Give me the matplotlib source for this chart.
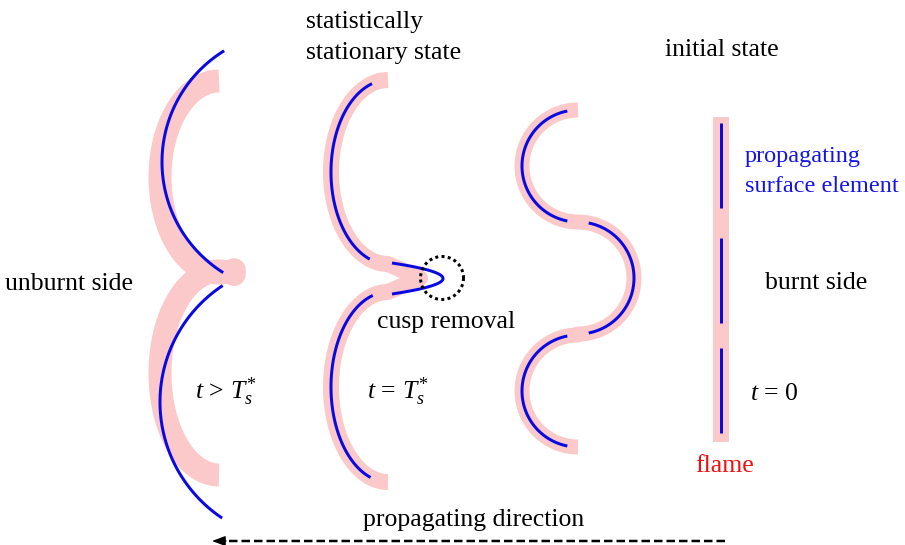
import matplotlib
matplotlib.use('Agg')
import matplotlib.pyplot as plt
import numpy as np

plt.rcParams['font.family'] = ['Liberation Serif', 'DejaVu Serif']
plt.rcParams['mathtext.fontset'] = 'custom'
plt.rcParams['mathtext.rm'] = 'Liberation Serif'
plt.rcParams['mathtext.it'] = 'Liberation Serif:italic'

PINK = '#fbc9c9'
BLUE = '#0a0ae0'
PX = 0.72  # points per pixel at dpi 100

# --- geometry (pixel units, y downwards) ---
# t > Ts*: pink ellipse arcs (cx, cy, a, b, t_start, t_end)
late_pink = [(219, 177, 59, 96, 270, 75), (219, 373, 59, 102, 285, 90)]
# blue circle arcs (cx, cy, r, t_start, t_end)
late_blue = [(292.6, 162, 130.6, 238.4, 122.1), (299.5, 402, 139.5, 236.6, 123.7)]

# t = Ts*: pink ellipses + neck tip
stat_pink = [(388, 172, 57, 92, 270, 90), (388, 387, 57, 95, 270, 90)]
stat_tip = (420, 278)
stat_blue = [(388, 172, 57, 92, 253.7, 108.7), (388, 387, 57, 95, 254.5, 107.8)]
cusp_base_x, cusp_tip_x, cusp_y, cusp_half = 392, 443, 278.5, 15.5
cusp_circle = (442, 278, 21.5)

# t = 0 curved: three semicircles
init_cx, init_r = 578, 56
init_cy = [166, 278, 391]
init_side = ['left', 'right', 'left']
init_trim = 11

# planar flame
flat_x = 721
flat_span = (117, 442)
flat_blue = [(123, 208), (238, 323), (348, 433)]

arrow_y, arrow_from, arrow_to = 541, 725, 212


def ell(cx, cy, a, b, t0, t1, n=120):
    t = np.radians(np.linspace(t0, t1, n))
    return cx + a * np.cos(t), cy + b * np.sin(t)


fig = plt.figure(figsize=(9.05, 5.45), dpi=100)
ax = fig.add_axes([0, 0, 1, 1])
ax.set_xlim(0, 905)
ax.set_ylim(545, 0)
ax.axis('off')

# t > Ts*
xs, ys = [], []
for cx, cy, a, b, t0, t1 in late_pink:
    x, y = ell(cx, cy, a, b, t0, t1)
    xs.append(x); ys.append(y)
ax.plot(np.concatenate(xs), np.concatenate(ys), color=PINK, lw=23 * PX,
        solid_capstyle='butt', solid_joinstyle='round')
for cx, cy, r, t0, t1 in late_blue:
    x, y = ell(cx, cy, r, r, t0, t1)
    ax.plot(x, y, color=BLUE, lw=3 * PX, solid_capstyle='butt')

# t = Ts*
x1, y1 = ell(*stat_pink[0])
x2, y2 = ell(*stat_pink[1])
px = np.concatenate([x1, [stat_tip[0]], x2])
py = np.concatenate([y1, [stat_tip[1]], y2])
ax.plot(px, py, color=PINK, lw=16 * PX, solid_capstyle='butt', solid_joinstyle='round')
for cx, cy, a, b, t0, t1 in stat_blue:
    x, y = ell(cx, cy, a, b, t0, t1)
    ax.plot(x, y, color=BLUE, lw=3 * PX, solid_capstyle='butt')
s = np.linspace(-1, 1, 80)
ax.plot(cusp_tip_x - (cusp_tip_x - cusp_base_x) * s ** 2, cusp_y + cusp_half * s,
        color=BLUE, lw=3 * PX, solid_capstyle='butt')
ccx, ccy, cr = cusp_circle
x, y = ell(ccx, ccy, cr, cr, 0, 360, 200)
ax.plot(x, y, color='black', lw=3 * PX, linestyle=(0, (1, 1.1)), dash_capstyle='butt')

# t = 0 curved
xs, ys = [], []
for cy, side in zip(init_cy, init_side):
    t0, t1 = (270, 90) if side == 'left' else (-90, 90)
    x, y = ell(init_cx, cy, init_r, init_r, t0, t1)
    xs.append(x); ys.append(y)
    d = -init_trim if t1 < t0 else init_trim
    bx, by = ell(init_cx, cy, init_r, init_r, t0 + d, t1 - d)
    ax.plot(bx, by, color=BLUE, lw=3 * PX, solid_capstyle='butt', zorder=3)
ax.plot(np.concatenate(xs), np.concatenate(ys), color=PINK, lw=15 * PX,
        solid_capstyle='butt', zorder=2)

# planar flame
ax.plot([flat_x, flat_x], flat_span, color=PINK, lw=16 * PX, solid_capstyle='butt')
for y0, y1 in flat_blue:
    ax.plot([flat_x, flat_x], [y0, y1], color=BLUE, lw=3 * PX, solid_capstyle='butt')

# propagating direction arrow
ax.plot([arrow_from, arrow_to + 12], [arrow_y, arrow_y], color='black', lw=2.5 * PX,
        linestyle=(0, (3.4, 1.6)))
ax.annotate('', xy=(arrow_to, arrow_y), xytext=(arrow_to + 14, arrow_y),
            arrowprops=dict(arrowstyle='-|>,head_length=0.8,head_width=0.3',
                            color='black', lw=1, shrinkA=0, shrinkB=0))

# texts
fs = 18.5
ax.text(306, 28, 'statistically', fontsize=fs, va='baseline')
ax.text(306, 59, 'stationary state', fontsize=fs, va='baseline')
ax.text(665, 56, 'initial state', fontsize=fs, va='baseline')
ax.text(5, 290, 'unburnt side', fontsize=fs, va='baseline')
ax.text(765, 289, 'burnt side', fontsize=fs, va='baseline')
ax.text(745, 162, 'propagating', fontsize=17.5, va='baseline', color='#1414e6')
ax.text(745, 192, 'surface element', fontsize=17.5, va='baseline', color='#1414e6')
ax.text(377, 328, 'cusp removal', fontsize=fs, va='baseline')
ax.text(195, 399, r'$t\,>\,T_s^{*}$', fontsize=fs, va='baseline')
ax.text(367, 399, r'$t\,=\,T_s^{*}$', fontsize=fs, va='baseline')
ax.text(750, 400, r'$t$ = 0', fontsize=fs, va='baseline')
ax.text(695, 472, 'flame', fontsize=fs, va='baseline', color='#ee1111')
ax.text(363, 526, 'propagating direction', fontsize=fs, va='baseline')

fig.savefig('out.png', dpi=100)
